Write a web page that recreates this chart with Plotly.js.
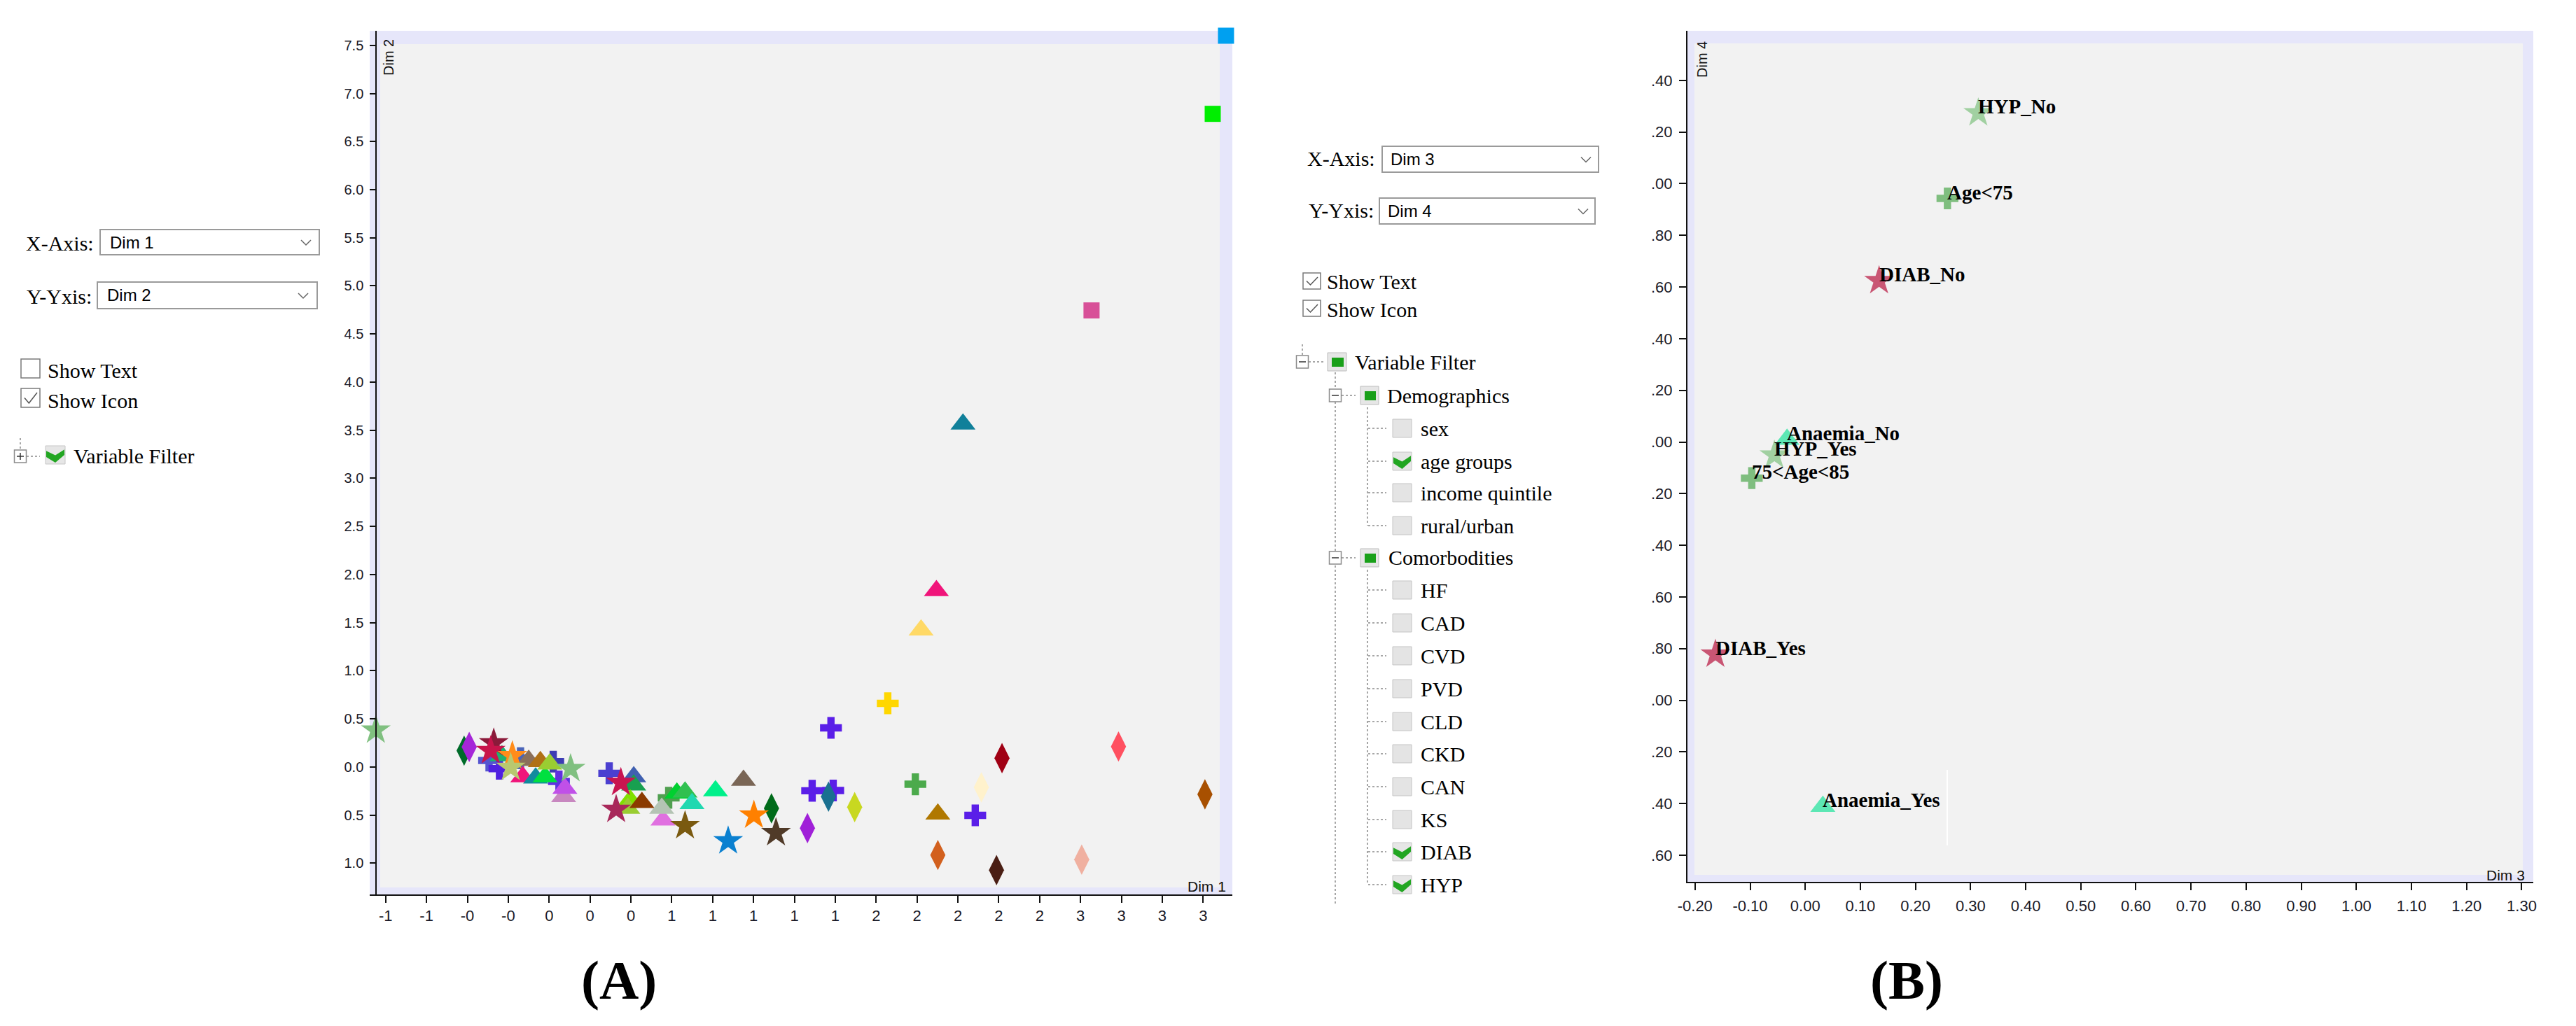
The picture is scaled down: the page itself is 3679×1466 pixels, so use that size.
<!DOCTYPE html>
<html><head><meta charset="utf-8">
<script src="https://cdn.plot.ly/plotly-3.0.1.min.js"></script>
<style>html,body{margin:0;padding:0;background:#fff;overflow:hidden}#chart{width:3679px;height:1466px}</style>
</head><body><div id="chart"></div>
<script>
// ================= DATA =================
// Panel A : Dim 1 (x) vs Dim 2 (y), grouped by marker shape
const crossDim1 = [-0.294, -0.243, -0.140, 0.020, 0.048, 0.294, 0.585, 1.379, 1.287, 1.390, 1.657, 1.792, 2.085];
const crossDim2 = [0.068, -0.017, 0.092, 0.056, -0.150, -0.065, -0.320, 0.407, -0.247, -0.244, 0.662, -0.179, -0.502];
const crossColors = ['#5454d0','#5020e0','#4a64b8','#3c3cb4','#6030e0','#4b3fd0','#50a050','#5a1ee8','#5a1ee8','#5a1ee8','#ffd700','#4caa4c','#5a1ee8'];

const diamondDim1 = [-0.416, -0.391, 1.088, 1.367, 1.264, 1.495, 1.533, 1.902, 2.115, 2.216, 2.189, 2.786, 3.209, 2.606];
const diamondDim2 = [0.170, 0.209, -0.429, -0.308, -0.635, -0.417, -1.326, -0.914, -0.211, 0.092, -1.071, 0.213, -0.284, -0.962];
const diamondColors = ['#006b2a','#a526d8','#006b1a','#1a7090','#a020d8','#c8d820','#ff6a00','#d2601e','#fff2cc','#a00014','#4a1e14','#ff5060','#a85000','#f0b0a0'];

const triangleDim1 = [-0.231, -0.100, -0.043, -0.129, -0.066, -0.020, 0.003, 0.071, 0.077, 0.414, 0.414, 0.397, 0.385, 0.454, 0.557, 0.551, 0.625, 0.665, 0.699, 0.814, 0.951, 1.902, 1.820, 1.895, 2.025];
const triangleDim2 = [0.116, 0.068, 0.056, -0.102, -0.114, -0.102, 0.031, -0.308, -0.223, -0.102, -0.187, -0.344, -0.429, -0.369, -0.551, -0.429, -0.271, -0.260, -0.380, -0.247, -0.138, -0.490, 1.423, 1.833, 3.563];
const triangleColors = ['#20b070','#8b6f5a','#b07015','#f0147a','#128a9e','#00e040','#9acd32','#c888c0','#c050e8','#4060b0','#18a050','#80e000','#9acd32','#8b3a00','#e070e0','#b4c4b4','#00d030','#30c050','#20d8b0','#00f08a','#7a6656','#b07800','#ffd966','#f0147a','#10809a'];

const starDim1 = [-0.848, -0.271, -0.286, -0.180, -0.188, 0.105, 0.351, 0.328, 0.665, 0.876, 1.002, 1.110];
const starDim2 = [0.383, 0.250, 0.170, 0.116, -0.005, -0.017, -0.162, -0.441, -0.611, -0.769, -0.502, -0.684];
const starColors = ['#80c080','#8b1a3a','#c8144b','#ff8c1a','#b8c870','#80c080','#c81450','#a8285a','#7a5a10','#0a80d0','#ff8000','#503a28'];

const squareDim1 = [2.654, 3.247, 3.312];
const squareDim2 = [4.745, 6.788, 7.600];
const squareColors = ['#d85098','#00ee00','#00a0f0'];

const dim1TickVals = [-0.8,-0.6,-0.4,-0.2,0.0,0.2,0.4,0.6,0.8,1.0,1.2,1.4,1.6,1.8,2.0,2.2,2.4,2.6,2.8,3.0,3.2];
const dim1TickText = ['-1','-1','-0','-0','0','0','0','1','1','1','1','1','2','2','2','2','2','3','3','3','3'];
const dim2TickVals = [-1.0,-0.5,0.0,0.5,1.0,1.5,2.0,2.5,3.0,3.5,4.0,4.5,5.0,5.5,6.0,6.5,7.0,7.5];
const dim2TickText = ['1.0','0.5','0.0','0.5','1.0','1.5','2.0','2.5','3.0','3.5','4.0','4.5','5.0','5.5','6.0','6.5','7.0','7.5'];

// Panel B : Dim 3 (x) vs Dim 4 (y)
const labelsB = ['HYP_No','Age<75','DIAB_No','Anaemia_No','HYP_Yes','75<Age<85','DIAB_Yes','Anaemia_Yes'];
const dim3 = [0.314, 0.258, 0.134, -0.033, -0.056, -0.097, -0.163, 0.032];
const dim4 = [1.274, 0.943, 0.624, 0.010, -0.051, -0.140, -0.822, -1.411];
const symbolsB = ['star','cross','star','triangle-up','star','cross','star','triangle-up'];
const colorsB = ['#7fc27f','#4ea84e','#b8143f','#1de39a','#7fc27f','#4ea84e','#b8143f','#1de39a'];

const dim3TickVals = [-0.2,-0.1,0.0,0.1,0.2,0.3,0.4,0.5,0.6,0.7,0.8,0.9,1.0,1.1,1.2,1.3];
const dim3TickText = ['-0.20','-0.10','0.00','0.10','0.20','0.30','0.40','0.50','0.60','0.70','0.80','0.90','1.00','1.10','1.20','1.30'];
const dim4TickVals = [-1.6,-1.4,-1.2,-1.0,-0.8,-0.6,-0.4,-0.2,0.0,0.2,0.4,0.6,0.8,1.0,1.2,1.4];
const dim4TickText = ['.60','.40','.20','.00','.80','.60','.40','.20','.00','.20','.40','.60','.80','.00','.20','.40'];

// Controls text
const demographicsItems = ['sex','age groups','income quintile','rural/urban'];
const demographicsChecked = [false,true,false,false];
const comorbItems = ['HF','CAD','CVD','PVD','CLD','CKD','CAN','KS','DIAB','HYP'];
const comorbChecked = [false,false,false,false,false,false,false,false,true,true];

// ================= HELPERS =================
const W = 3679, H = 1466;
const PX = v => v / W, PY = v => 1 - v / H;
const shapes = [], annotations = [];
const SERIF = 'Liberation Serif, Times New Roman, serif';
const SANS = 'Liberation Sans, Arial, sans-serif';

function rect(x0,y0,x1,y1,fill,lc,lw,layer){
  shapes.push({type:'rect',xref:'paper',yref:'paper',x0:PX(x0),x1:PX(x1),y0:PY(y1),y1:PY(y0),
    fillcolor:fill,line:{color:lc||'rgba(0,0,0,0)',width:lw||0},layer:layer||'above'});
}
function seg(x0,y0,x1,y1,color,w,dash){
  shapes.push({type:'line',xref:'paper',yref:'paper',x0:PX(x0),y0:PY(y0),x1:PX(x1),y1:PY(y1),
    line:{color:color,width:w,dash:dash||'solid'},layer:'above'});
}
function poly(pts,fill,lc,lw,closed){
  const p = 'M' + pts.map(q => PX(q[0]).toFixed(6)+','+PY(q[1]).toFixed(6)).join('L') + (closed?'Z':'');
  shapes.push({type:'path',xref:'paper',yref:'paper',path:p,fillcolor:fill||'rgba(0,0,0,0)',
    line:{color:lc||'rgba(0,0,0,0)',width:lw||0},layer:'above'});
}
function txt(x,y,t,size,family,opts){
  annotations.push(Object.assign({xref:'paper',yref:'paper',x:PX(x),y:PY(y),text:t,showarrow:false,
    xanchor:'left',yanchor:'middle',font:{family:family,size:size,color:'#000'}},opts||{}));
}
function dropdown(x0,y0,x1,y1,label,tx,cx){
  rect(x0,y0,x1,y1,'#ffffff','#9a9a9a',2);
  txt(tx,(y0+y1)/2,label,24,SANS);
  const cy=(y0+y1)/2;
  poly([[cx-7,cy-3],[cx,cy+4],[cx+7,cy-3]],null,'#666',1.5,false);
}
function checkbox(x0,y0,x1,y1,checked){
  rect(x0,y0,x1,y1,'#ffffff','#7a7a7a',1.5);
  if(checked){
    const w=x1-x0,h=y1-y0;
    poly([[x0+5,y0+0.5*h],[x0+0.42*w,y1-6],[x1-4,y0+6]],null,'#555',1.5,false);
  }
}
function greenCheck(x0,y0,x1,y1){
  rect(x0,y0,x1,y1,'#e6e6e6','#c6c6c6',1);
  const w=x1-x0,h=y1-y0;
  poly([[x0+1,y0+0.28*h],[x0+0.5*w,y0+0.52*h],[x1-1,y0+0.2*h],[x1-1,y0+0.5*h],[x0+0.5*w,y1-2],[x0+1,y0+0.62*h]],'#22a622',null,0,true);
}
function greenBox(x0,y0,x1,y1){
  rect(x0,y0,x1,y1,'#e6e6e6','#bdbdbd',1);
  rect(x0+6,y0+7,x1-4,y1-6,'#19a019',null,0);
}
function greyBox(x0,y0,x1,y1){
  rect(x0,y0,x1,y1,'#e4e4e4','#c4c4c4',1);
}
function toggleBox(cx,cy,plus){
  rect(cx-8.5,cy-9,cx+8.5,cy+9,'#ffffff','#8a8a8a',1.5);
  seg(cx-5,cy,cx+5,cy,'#333',1.5);
  if(plus) seg(cx,cy-5,cx,cy+5,'#333',1.5);
}
const DOT='#8a8a8a';

// ================= PANEL FRAMES =================
rect(528,44,1760,1278,'#e6e6fa',null,0,'below');
rect(543,63,1742,1268,'#f2f2f2',null,0,'below');
rect(2410,44,3618,1260,'#e6e6fa',null,0,'below');
rect(2420,62,3603,1250,'#f2f2f2',null,0,'below');
shapes.push({type:'line',xref:'paper',yref:'paper',x0:PX(2781),x1:PX(2781),y0:PY(1208),y1:PY(1100),
  line:{color:'#ffffff',width:2},layer:'below'});

// ================= CONTROLS PANEL A =================
txt(35,347,'X-Axis:',30,SERIF);
dropdown(143,328,456,364,'Dim 1',155,437);
txt(36,423,'Y-Yxis:',30,SERIF);
dropdown(139,403,453,441,'Dim 2',151,433);
checkbox(30,513,57,540,false); txt(66,530,'Show Text',30,SERIF);
checkbox(30,555,57,582,true);  txt(66,572,'Show Icon',30,SERIF);
seg(29,626,29,643,DOT,1.5,'dot');
seg(38,652,57,652,DOT,1.5,'dot');
toggleBox(29,652,true);
greenCheck(65,637,93,663);
txt(103,652,'Variable Filter',30,SERIF);

// ================= CONTROLS PANEL B =================
txt(1865,226,'X-Axis:',30,SERIF);
dropdown(1974,209,2283,246,'Dim 3',1984,2265);
txt(1867,301,'Y-Yxis:',30,SERIF);
dropdown(1970,283,2278,320,'Dim 4',1980,2261);
checkbox(1861,390,1886,413,true); txt(1893,403,'Show Text',30,SERIF);
checkbox(1861,429,1886,452,true); txt(1893,442,'Show Icon',30,SERIF);

seg(1860,492,1860,508,DOT,1.5,'dot');
seg(1869,517,1891,517,DOT,1.5,'dot');
seg(1907,532,1907,1292,DOT,1.5,'dot');
seg(1916,565,1936,565,DOT,1.5,'dot');
seg(1916,797,1936,797,DOT,1.5,'dot');
seg(1953,582,1953,751,DOT,1.5,'dot');
seg(1953,814,1953,1264,DOT,1.5,'dot');
toggleBox(1860,517,false);
greenBox(1896,504,1923,530);
txt(1933,517,'Variable Filter',30,SERIF);
toggleBox(1907,565,false);
greenBox(1943,552,1969,578);
txt(1979,565,'Demographics',30,SERIF);
const demoY = [612,659,704,751];
demographicsItems.forEach((t,i)=>{
  const y=demoY[i];
  seg(1954,y,1980,y,DOT,1.5,'dot');
  if(demographicsChecked[i]) greenCheck(1989,y-13,2016,y+13); else greyBox(1989,y-13,2016,y+13);
  txt(2027,y,t,30,SERIF);
});
toggleBox(1907,797,false);
greenBox(1943,784,1969,810);
txt(1981,797,'Comorbodities',30,SERIF);
const comorbY = [843,890,937,984,1031,1077,1124,1171,1217,1264];
comorbItems.forEach((t,i)=>{
  const y=comorbY[i];
  seg(1954,y,1980,y,DOT,1.5,'dot');
  if(comorbChecked[i]) greenCheck(1989,y-13,2016,y+13); else greyBox(1989,y-13,2016,y+13);
  txt(2027,y,t,30,SERIF);
});

// ================= AXIS LABELS & PANEL TAGS =================
txt(555,82,'Dim 2',20,SANS,{xanchor:'center',textangle:-90,font:{family:SANS,size:20,color:'#111'}});
txt(1723,1266,'Dim 1',21,SANS,{xanchor:'center',font:{family:SANS,size:21,color:'#111'}});
txt(2431,85,'Dim 4',20,SANS,{xanchor:'center',textangle:-90,font:{family:SANS,size:20,color:'#111'}});
txt(3578,1250,'Dim 3',21,SANS,{xanchor:'center',font:{family:SANS,size:21,color:'#111'}});
txt(884,1400,'<b>(A)</b>',78,SERIF,{xanchor:'center'});
txt(2723,1400,'<b>(B)</b>',78,SERIF,{xanchor:'center'});

// Panel B point labels (data coordinates)
labelsB.forEach((lab,i)=>{
  annotations.push({xref:'x2',yref:'y2',x:dim3[i],y:dim4[i],text:'<b>'+lab.replace(/</g,'&lt;')+'</b>',
    showarrow:false,xanchor:'left',yanchor:'middle',yshift:9,xshift:-2,
    font:{family:SERIF,size:29,color:'#000'}});
});

// ================= TRACES =================
function mk(x,y,colors,symbol,size,xa,ya){
  return {type:'scatter',mode:'markers',x:x,y:y,xaxis:xa,yaxis:ya,cliponaxis:false,hoverinfo:'skip',
    marker:{symbol:symbol,size:size,color:colors,line:{width:0}}};
}
const traces = [
  mk(crossDim1,crossDim2,crossColors,'cross',26,'x','y'),
  mk(diamondDim1,diamondDim2,diamondColors,'diamond-tall',31,'x','y'),
  mk(triangleDim1,triangleDim2,triangleColors,'triangle-up',31,'x','y'),
  mk(starDim1,starDim2,starColors,'star',32,'x','y'),
  mk(squareDim1,squareDim2,squareColors,'square',23,'x','y'),
  mk(dim3,dim4,colorsB,symbolsB,30,'x2','y2')
];
traces[5].marker.size = symbolsB.map(s => s==='cross'?26:(s==='star'?32:31));

const tickFont = {family:SANS,size:22,color:'#1a1a28'};
const common = {showgrid:false,zeroline:false,showline:true,linecolor:'#111',linewidth:2,
  ticks:'outside',tickcolor:'#111',tickwidth:2,tickmode:'array',automargin:false};

const layout = {
  width:W,height:H,margin:{l:0,r:0,t:0,b:0,pad:0},
  paper_bgcolor:'#ffffff',plot_bgcolor:'rgba(0,0,0,0)',showlegend:false,
  xaxis:Object.assign({},common,{domain:[PX(528),PX(1760)],range:[-0.878,3.343],anchor:'y',
    tickvals:dim1TickVals,ticktext:dim1TickText,ticklen:10,tickfont:tickFont,ticklabelstandoff:0}),
  yaxis:Object.assign({},common,{domain:[PY(1278),PY(44)],range:[-1.324,7.651],anchor:'free',position:PX(537.3),
    tickvals:dim2TickVals,ticktext:dim2TickText,ticklen:8,tickfont:{family:SANS,size:20,color:'#1a1a28'},ticklabelstandoff:5}),
  xaxis2:Object.assign({},common,{domain:[PX(2410),PX(3618)],range:[-0.2137,1.321],anchor:'y2',
    tickvals:dim3TickVals,ticktext:dim3TickText,ticklen:10,tickfont:tickFont,ticklabelstandoff:4}),
  yaxis2:Object.assign({},common,{domain:[PY(1260),PY(44)],range:[-1.703,1.592],anchor:'x2',
    tickvals:dim4TickVals,ticktext:dim4TickText,ticklen:10,tickfont:tickFont,ticklabelstandoff:5}),
  shapes:shapes,annotations:annotations
};
Plotly.newPlot('chart',traces,layout,{staticPlot:true,displayModeBar:false});
</script></body></html>
